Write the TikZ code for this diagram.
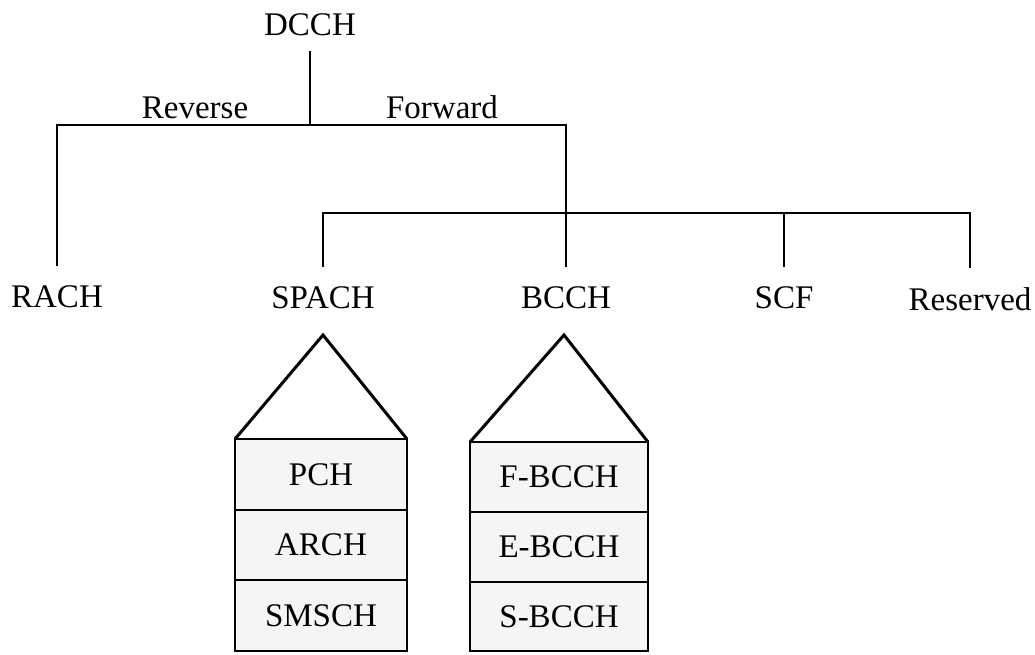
\documentclass[tikz,border=0pt]{standalone}
\usepackage{fontspec}
\setmainfont{Liberation Serif}
\begin{document}
\begin{tikzpicture}[x=1pt,y=-1pt,
  every node/.style={font=\fontsize{33}{40}\selectfont, inner sep=0pt},
  lbl/.style={anchor=base, outer sep=21pt},
  tree/.style={line width=2.8pt, line cap=rect},
  roof/.style={line width=3pt, line join=miter},
  cell/.style={draw, line width=2.8pt, fill=black!4, minimum width=#1, outer sep=0pt, anchor=north west}
]
\useasboundingbox (0,0) rectangle (1035,654);

% tree labels
\node[anchor=base, outer sep=17pt] (DCCH) at (310,35) {DCCH};
\node[anchor=base, inner sep=2pt] (rev) at (195,118) {Reverse};
\node[anchor=base, inner sep=2pt] (fwd) at (442,118) {Forward};
\node[lbl] (RACH) at (57,307) {RACH};
\node[lbl] (SPACH) at (323,308) {SPACH};
\node[lbl] (BCCH) at (566,308) {BCCH};
\node[lbl] (SCF) at (784,308) {SCF};
\node[lbl] (Reserved) at (970,310) {Reserved};

\coordinate (j1) at (310,125);
\coordinate (j2) at (566,213);

\draw[tree] (DCCH.south) -- (j1);
\draw[tree] (RACH.north) |- (j1) -| (BCCH.north);
\draw[tree] (SPACH.north) |- (j2) -| (Reserved.north);
\draw[tree] (SCF.north) -- (SCF.north |- j2);

% SPACH stack
\node[cell=172pt, minimum height=71pt] (PCH) at (235,439) {PCH};
\node[cell=172pt, minimum height=70pt] (ARCH) at (PCH.south west) {ARCH};
\node[cell=172pt, minimum height=71pt] (SMSCH) at (ARCH.south west) {SMSCH};
\coordinate (apexA) at (323,335);
\draw[roof] (PCH.north west) -- (apexA) -- (PCH.north east);

% BCCH stack
\node[cell=178pt, minimum height=70pt] (FBCCH) at (470,442) {F-BCCH};
\node[cell=178pt, minimum height=70pt] (EBCCH) at (FBCCH.south west) {E-BCCH};
\node[cell=178pt, minimum height=69pt] (SBCCH) at (EBCCH.south west) {S-BCCH};
\coordinate (apexB) at (564,335);
\draw[roof] (FBCCH.north west) -- (apexB) -- (FBCCH.north east);
\end{tikzpicture}
\end{document}
